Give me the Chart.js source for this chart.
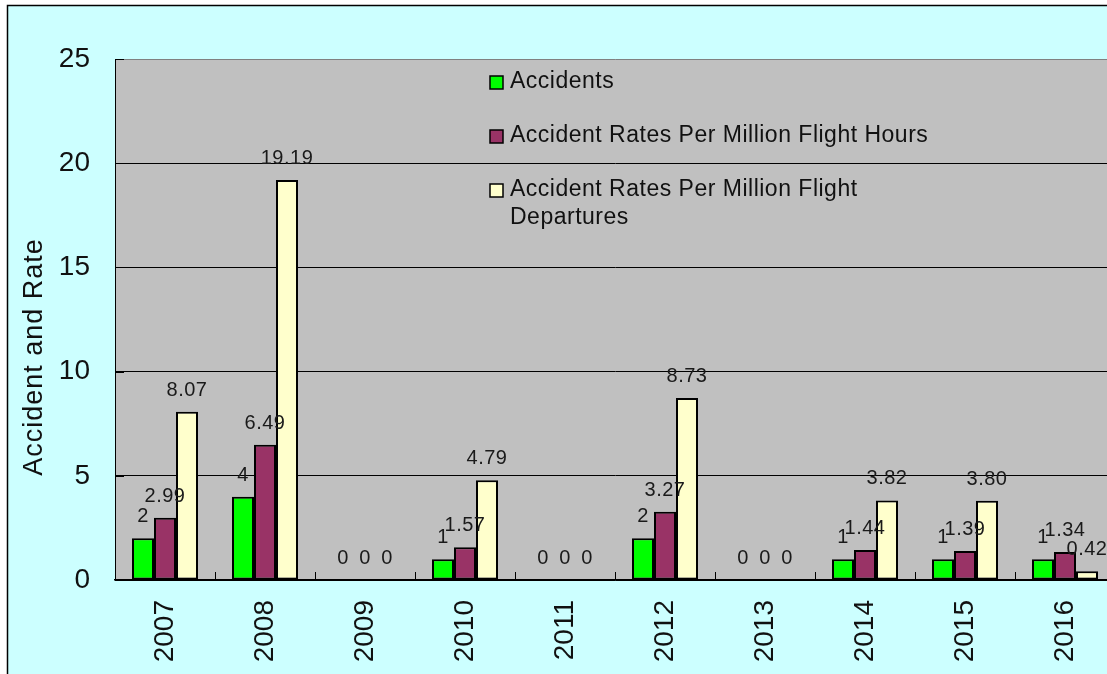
<!DOCTYPE html>
<html lang="en">
<head>
<meta charset="UTF-8">
<title>Accidents and Accident Rates</title>
<script src="https://cdn.jsdelivr.net/npm/chart.js"></script>
<style>
  html, body { margin: 0; padding: 0; overflow: hidden; background: #fff; }
  #chart { display: block; }
</style>
</head>
<body>
<canvas id="chart" width="1140" height="674"></canvas>
<script>
// chart data
const years = ['2007', '2008', '2009', '2010', '2011', '2012', '2013', '2014', '2015', '2016'];
const accidents = [2, 4, 0, 1, 0, 2, 0, 1, 1, 1];
const ratesPerHours = [2.99, 6.49, 0, 1.57, 0, 3.27, 0, 1.44, 1.39, 1.34];
const ratesPerDepartures = [8.07, 19.19, 0, 4.79, 0, 8.73, 0, 3.82, 3.80, 0.42];
const seriesNames = ['Accidents', 'Accident Rates Per Million Flight Hours', 'Accident Rates Per Million Flight Departures'];
const seriesDecimals = [0, 2, 2];
const yAxisTitle = 'Accident and Rate';

const FONT = 'Arial, "Liberation Sans", sans-serif';

// background, outer frame and grey plot area
const framePlugin = {
    id: 'frame',
    beforeDraw(chart) {
        const ctx = chart.ctx;
        const a = chart.chartArea;
        ctx.save();
        ctx.fillStyle = '#ffffff';
        ctx.fillRect(0, 0, chart.width, chart.height);
        ctx.fillStyle = '#ccffff';
        ctx.fillRect(7, 5, chart.width, chart.height);
        ctx.strokeStyle = '#000';
        ctx.lineWidth = 1.5;
        ctx.beginPath();
        ctx.moveTo(7.5, chart.height);
        ctx.lineTo(7.5, 5.5);
        ctx.lineTo(chart.width, 5.5);
        ctx.stroke();
        ctx.fillStyle = '#c0c0c0';
        ctx.fillRect(a.left, a.top, a.right - a.left, a.bottom - a.top);
        ctx.restore();
    }
};

// value labels above each bar
const valueLabels = {
    id: 'valueLabels',
    afterDatasetsDraw(chart) {
        const ctx = chart.ctx;
        ctx.save();
        ctx.font = '20px ' + FONT;
        ctx.letterSpacing = '0.5px';
        ctx.fillStyle = '#1a1a1a';
        ctx.textAlign = 'center';
        ctx.textBaseline = 'alphabetic';
        chart.data.datasets.forEach((ds, i) => {
            chart.getDatasetMeta(i).data.forEach((bar, j) => {
                const v = ds.data[j];
                const txt = v === 0 ? '0' : v.toFixed(seriesDecimals[i]);
                ctx.fillText(txt, bar.x, bar.y - 16);
            });
        });
        ctx.restore();
    }
};

// inside tick marks, legend and y axis title
const extras = {
    id: 'extras',
    afterDraw(chart) {
        const ctx = chart.ctx;
        const a = chart.chartArea;
        const xs = chart.scales.x;
        const ys = chart.scales.y;
        ctx.save();

        // tick marks
        ctx.strokeStyle = '#000';
        ctx.lineWidth = 1;
        ctx.beginPath();
        const n = years.length;
        const step = (xs.getPixelForTick(1) - xs.getPixelForTick(0));
        for (let i = 1; i < n; i++) {
            const x = Math.round(xs.getPixelForTick(i) - step / 2) + 0.5;
            ctx.moveTo(x, a.bottom);
            ctx.lineTo(x, a.bottom - 8);
        }
        ys.ticks.forEach(t => {
            const y = Math.round(ys.getPixelForValue(t.value)) + 0.5;
            ctx.moveTo(a.left, y);
            ctx.lineTo(a.left + 9, y);
        });
        ctx.stroke();

        // legend
        ctx.font = '23px ' + FONT;
        ctx.letterSpacing = '0.5px';
        ctx.textAlign = 'left';
        ctx.textBaseline = 'middle';
        const rowsY = [82, 136, 190];
        const maxW = 430;
        chart.data.datasets.forEach((ds, i) => {
            const y = rowsY[i];
            ctx.fillStyle = ds.backgroundColor;
            ctx.fillRect(490, y - 6, 13, 13);
            ctx.strokeStyle = '#000';
            ctx.lineWidth = 1.5;
            ctx.strokeRect(490, y - 6, 13, 13);
            // wrap long names
            const words = ds.label.split(' ');
            const lines = [];
            let line = '';
            words.forEach(w => {
                const test = line ? line + ' ' + w : w;
                if (ctx.measureText(test).width > maxW && line) {
                    lines.push(line);
                    line = w;
                } else {
                    line = test;
                }
            });
            lines.push(line);
            ctx.fillStyle = '#111';
            lines.forEach((l, k) => ctx.fillText(l, 510, y + k * 28));
        });

        // y axis title
        ctx.translate(35, 357);
        ctx.rotate(-Math.PI / 2);
        ctx.font = '27px ' + FONT;
        ctx.letterSpacing = '1px';
        ctx.textAlign = 'center';
        ctx.fillStyle = '#111';
        ctx.fillText(yAxisTitle, 0, 0);
        ctx.restore();
    }
};

const colors = ['#00ff00', '#993366', '#ffffcc'];
const seriesData = [accidents, ratesPerHours, ratesPerDepartures];

new Chart(document.getElementById('chart').getContext('2d'), {
    type: 'bar',
    data: {
        labels: years,
        datasets: seriesData.map((d, i) => ({
            label: seriesNames[i],
            data: d,
            backgroundColor: colors[i],
            borderColor: '#000',
            borderWidth: 2,
            borderSkipped: false,
            categoryPercentage: 0.66,
            barPercentage: 1.0
        }))
    },
    options: {
        responsive: false,
        animation: false,
        layout: { padding: { top: 59, right: 25, left: 0, bottom: 0 } },
        plugins: {
            legend: { display: false },
            tooltip: { enabled: false }
        },
        scales: {
            x: {
                offset: true,
                grid: { display: false, drawTicks: false },
                border: { display: true, color: '#000', width: 1.5 },
                ticks: {
                    minRotation: 90,
                    maxRotation: 90,
                    autoSkip: false,
                    padding: 20,
                    color: '#111',
                    font: { family: FONT, size: 28 }
                },
                afterFit(scale) { scale.height = 94; }
            },
            y: {
                min: 0,
                max: 25,
                grid: {
                    drawTicks: false,
                    lineWidth: 1,
                    color: c => (c.tick && c.tick.value === 25) ? '#808080' : '#000'
                },
                border: { display: true, color: '#000', width: 1 },
                ticks: {
                    stepSize: 5,
                    padding: 25,
                    color: '#111',
                    font: { family: FONT, size: 28 }
                },
                afterFit(scale) { scale.width = 115; }
            }
        }
    },
    plugins: [framePlugin, valueLabels, extras]
});
</script>
</body>
</html>
